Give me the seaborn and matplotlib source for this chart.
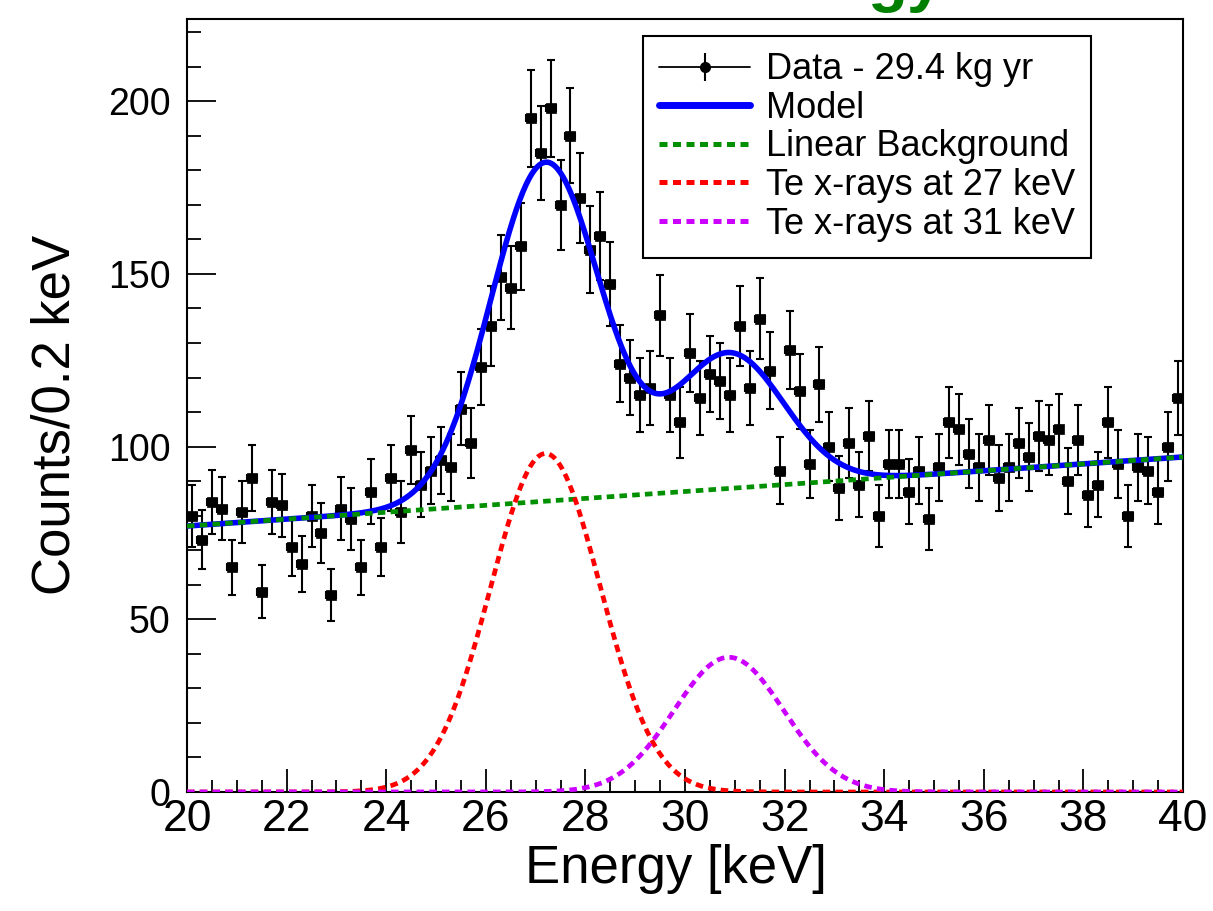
import numpy as np
import pandas as pd
import matplotlib
matplotlib.use("Agg")
import matplotlib.pyplot as plt
from matplotlib.lines import Line2D
from matplotlib.legend_handler import HandlerTuple
from matplotlib.ticker import MultipleLocator
import seaborn as sns

# ---------------- data ----------------
e_min, e_max, bin_width = 20.0, 40.0, 0.2
counts = [80, 73, 84, 82, 65, 81, 91, 58, 84, 83,
          71, 66, 80, 75, 57, 82, 79, 65, 87, 71,
          91, 81, 99, 89, 93, 96, 94, 111, 101, 123,
          135, 149, 146, 158, 195, 185, 198, 170, 190, 172,
          157, 161, 147, 124, 120, 115, 117, 138, 115, 107,
          127, 114, 121, 119, 115, 135, 117, 137, 122, 93,
          128, 116, 95, 118, 100, 88, 101, 89, 103, 80,
          95, 95, 87, 93, 79, 94, 107, 105, 98, 94,
          102, 91, 94, 101, 97, 103, 102, 105, 90, 102,
          86, 89, 107, 95, 80, 94, 93, 87, 100, 114]

# fitted model parameters
bkg_at_20, bkg_slope = 77.0, 1.0          # linear background
peak27_amp, peak27_mu, peak27_sigma = 98.0, 27.2, 1.1
peak31_amp, peak31_mu, peak31_sigma = 39.0, 30.88, 1.1

legend_labels = ["Data - 29.4 kg yr", "Model", "Linear Background",
                 "Te x-rays at 27 keV", "Te x-rays at 31 keV"]
x_ticks = [20, 22, 24, 26, 28, 30, 32, 34, 36, 38, 40]
y_ticks = [0, 50, 100, 150, 200]

# ---------------- derived frames ----------------
energy = e_min + bin_width / 2 + bin_width * np.arange(len(counts))
df = pd.DataFrame({"energy": energy, "counts": counts})
df["err"] = np.sqrt(df["counts"])

grid = np.linspace(e_min, e_max, 1001)
bkg = bkg_at_20 + bkg_slope * (grid - e_min)
g27 = peak27_amp * np.exp(-0.5 * ((grid - peak27_mu) / peak27_sigma) ** 2)
g31 = peak31_amp * np.exp(-0.5 * ((grid - peak31_mu) / peak31_sigma) ** 2)
curves = pd.DataFrame({"E": grid, "bkg": bkg, "g27": g27, "g31": g31,
                       "model": bkg + g27 + g31})

# ---------------- style ----------------
sns.set_style("ticks")
plt.rcParams["font.family"] = ["Liberation Sans", "DejaVu Sans"]
plt.rcParams["text.color"] = "black"
plt.rcParams["axes.labelcolor"] = "black"
plt.rcParams["xtick.color"] = "black"
plt.rcParams["ytick.color"] = "black"

fig = plt.figure(figsize=(12.13, 9.11), dpi=100)
ax = fig.add_axes([187 / 1213, 1 - 792 / 911, (1183 - 187) / 1213, (792 - 19) / 911])

# data points with errors
ax.errorbar(df["energy"], df["counts"], yerr=df["err"], xerr=bin_width / 2,
            fmt="none", ecolor="black", elinewidth=1.5, capsize=2.6,
            capthick=1.5, zorder=2)
sns.scatterplot(data=df, x="energy", y="counts", ax=ax, marker="s", s=44,
                color="black", edgecolor="black", linewidth=0.5, zorder=3,
                legend=False)

dot = (0, (1.6, 1.1))
sns.lineplot(data=curves, x="E", y="model", ax=ax, color="#0000ff",
             linewidth=4, zorder=4)
sns.lineplot(data=curves, x="E", y="bkg", ax=ax, color="#009000",
             linewidth=3.4, linestyle=dot, zorder=5)
sns.lineplot(data=curves, x="E", y="g27", ax=ax, color="#ff0000",
             linewidth=3.4, linestyle=dot, zorder=5)
sns.lineplot(data=curves, x="E", y="g31", ax=ax, color="#cc00ff",
             linewidth=3.4, linestyle=dot, zorder=6)

ax.set_xlim(e_min, e_max)
ax.set_ylim(0, 223.8)
ax.set_xticks(x_ticks)
ax.set_yticks(y_ticks)
ax.xaxis.set_minor_locator(MultipleLocator(0.5))
ax.yaxis.set_minor_locator(MultipleLocator(10))
ax.tick_params(axis="both", which="both", direction="in", width=1.3,
               color="black", labelcolor="black", top=False, right=False)
ax.tick_params(axis="x", which="major", length=16.5, labelsize=32, pad=5)
ax.tick_params(axis="x", which="minor", length=8.6)
ax.tick_params(axis="y", which="major", length=21, labelsize=27, pad=12)
ax.tick_params(axis="y", which="minor", length=10)
for s in ax.spines.values():
    s.set_visible(True)
    s.set_linewidth(1.5)
    s.set_color("black")

ax.set_xlabel("Energy [keV]", fontsize=38, color="black")
ax.set_ylabel("Counts/0.2 keV", fontsize=38, color="black")
ax.xaxis.set_label_coords(0.491, -0.067)
ax.yaxis.set_label_coords(-0.107, 0.488)

# legend
h_data = (Line2D([], [], color="black", lw=1.3),
          Line2D([], [], color="black", marker="|", markersize=20,
                 markeredgewidth=1.5, ls="none"),
          Line2D([], [], color="black", marker="o", markersize=7, ls="none"))
h_model = Line2D([], [], color="#0000ff", lw=5)
h_bkg = Line2D([], [], color="#009000", lw=3.6, linestyle=dot)
h_27 = Line2D([], [], color="#ff0000", lw=3.6, linestyle=dot)
h_31 = Line2D([], [], color="#cc00ff", lw=3.6, linestyle=dot)
leg = ax.legend([h_data, h_model, h_bkg, h_27, h_31], legend_labels,
                handler_map={tuple: HandlerTuple(ndivide=1, pad=0)},
                loc="upper left", bbox_to_anchor=(0.458, 0.978),
                borderaxespad=0, fontsize=26, handlelength=2.5,
                handletextpad=0.45, labelspacing=0.1, borderpad=0.45,
                fancybox=False, framealpha=1, edgecolor="black",
                numpoints=1)
leg.get_frame().set_linewidth(1.5)
for t in leg.get_texts():
    t.set_color("black")

# partial green title fragment at the very top (only its descenders show)
fig.text(943 / 1213, 1.0, "gy", ha="right", va="baseline",
         fontsize=47, fontweight="bold", color="#008000")

fig.savefig("out.png", dpi=100)
